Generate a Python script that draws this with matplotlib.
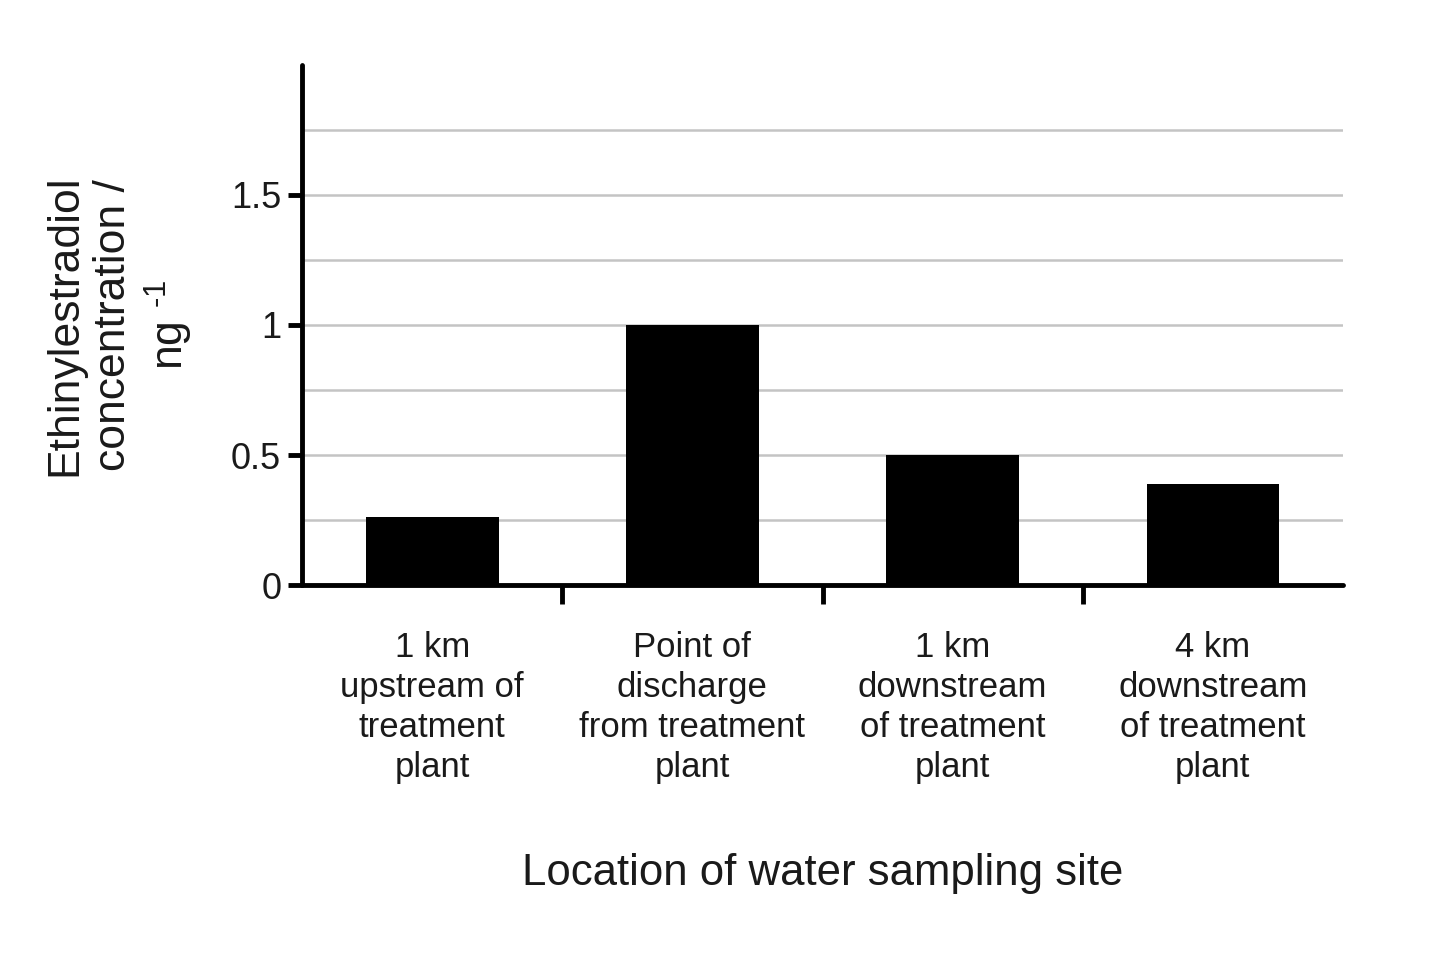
import matplotlib
matplotlib.use("Agg")
import matplotlib.pyplot as plt
import numpy as np

# data
sites = [
    "1 km\nupstream of\ntreatment\nplant",
    "Point of\ndischarge\nfrom treatment\nplant",
    "1 km\ndownstream\nof treatment\nplant",
    "4 km\ndownstream\nof treatment\nplant",
]
concentration = [0.26, 1.0, 0.5, 0.39]
y_ticks = [0, 0.5, 1, 1.5]
y_tick_labels = ["0", "0.5", "1", "1.5"]
grid_levels = [0.25, 0.5, 0.75, 1.0, 1.25, 1.5, 1.75]

plt.rcParams["font.family"] = ["Liberation Sans", "DejaVu Sans"]
plt.rcParams["mathtext.fontset"] = "custom"
plt.rcParams["mathtext.rm"] = "Liberation Sans"
plt.rcParams["mathtext.it"] = "Liberation Sans:italic"

fig = plt.figure(figsize=(14.43, 9.55), dpi=100)
ax = fig.add_axes([0.2093, 0.3874, 0.9307 - 0.2093, 0.932 - 0.3874])

x = np.arange(len(sites))

# light grey gridlines, not at the top
for g in grid_levels:
    ax.axhline(g, color="#c4c4c4", lw=1.8, zorder=0)

ax.bar(x, concentration, width=0.51, color="black", zorder=2)

ax.set_xlim(-0.5, len(sites) - 0.5)
ax.set_ylim(0, 2.0)

# spines
for side in ["top", "right"]:
    ax.spines[side].set_visible(False)
for side in ["left", "bottom"]:
    ax.spines[side].set_linewidth(3.5)
    ax.spines[side].set_capstyle("round")

# y ticks
ax.set_yticks(y_ticks)
ax.set_yticklabels(y_tick_labels, fontsize=26, color="#1a1a1a")
ax.tick_params(axis="y", direction="out", length=10, width=3.5, pad=5)

# x ticks between categories, labels at centres
ax.set_xticks(x[:-1] + 0.5)
ax.set_xticklabels([])
ax.tick_params(axis="x", direction="out", length=14, width=3.5)
ax.set_xticks(x, minor=True)
ax.set_xticklabels(sites, minor=True, fontsize=25, linespacing=1.27,
                   color="#1a1a1a")
ax.tick_params(axis="x", which="minor", length=0, pad=33)

ax.set_xlabel("Location of water sampling site", fontsize=31.5, labelpad=50,
              color="#1a1a1a")
ax.set_ylabel("Ethinylestradiol\nconcentration /\nng $^{\\text{-}1}$", fontsize=32,
              labelpad=26, linespacing=1.22, color="#1a1a1a")

fig.savefig("out.png", dpi=100, facecolor="white")
